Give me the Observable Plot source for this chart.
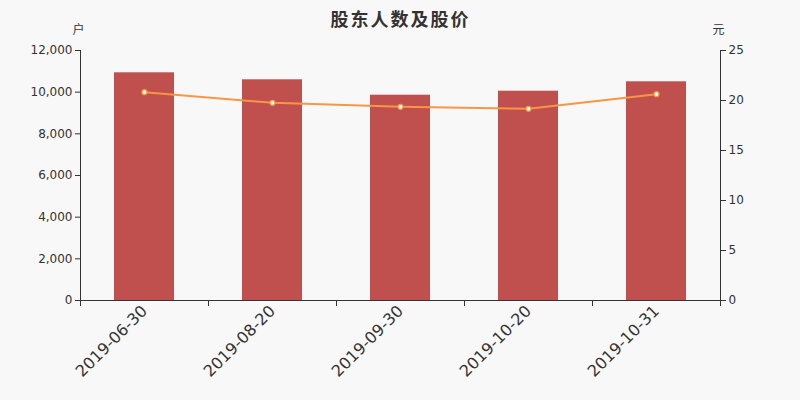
<!DOCTYPE html>
<html>
<head>
<meta charset="utf-8">
<script src="https://cdn.jsdelivr.net/npm/d3@7"></script>
<script src="https://cdn.jsdelivr.net/npm/@observablehq/plot@0.6"></script>
<style>
  html, body { margin: 0; padding: 0; background: #f8f8f8; }
  #chart svg { display: block; }
</style>
</head>
<body>
<div id="chart"></div>
<script>
const title = "股东人数及股价";
const leftUnit = "户";
const rightUnit = "元";
const dates = ["2019-06-30", "2019-08-20", "2019-09-30", "2019-10-20", "2019-10-31"];
const holders = [10930, 10594, 9854, 10046, 10498];
const prices = [20.83, 19.77, 19.37, 19.17, 20.63];
const leftTicks = [0, 2000, 4000, 6000, 8000, 10000, 12000];
const rightTicks = [0, 5, 10, 15, 20, 25];

const leftMax = 12000, rightMax = 25;
const k = leftMax / rightMax;
const data = dates.map((d, i) => ({date: d, holders: holders[i], price: prices[i]}));

const barColor = "#c0504d";
const lineColor = "#f79646";
const axisColor = "#333333";
const textColor = "#333333";

function axisLines(index, scales, values, dims) {
  const {width, height, marginLeft, marginRight, marginTop, marginBottom} = dims;
  const g = d3.create("svg:g").attr("stroke", axisColor).attr("fill", "none").attr("stroke-width", 1);
  const bottom = height - marginBottom;
  const step = (width - marginLeft - marginRight) / dates.length;
  g.append("line").attr("x1", marginLeft + 0.5).attr("x2", marginLeft + 0.5).attr("y1", marginTop).attr("y2", bottom);
  g.append("line").attr("x1", width - marginRight + 0.5).attr("x2", width - marginRight + 0.5).attr("y1", marginTop).attr("y2", bottom);
  g.append("line").attr("x1", marginLeft).attr("x2", width - marginRight).attr("y1", bottom + 0.5).attr("y2", bottom + 0.5);
  const edges = dates.map(d => scales.x(d));
  edges.push(edges[edges.length - 1] + step);
  for (const e of edges) {
    g.append("line").attr("x1", Math.round(e) + 0.5).attr("x2", Math.round(e) + 0.5).attr("y1", bottom).attr("y2", bottom + 6);
  }
  return g.node();
}

const chart = Plot.plot({
  width: 800,
  height: 400,
  marginTop: 50,
  marginBottom: 100,
  marginLeft: 80,
  marginRight: 80,
  style: {background: "#f8f8f8", fontFamily: "DejaVu Sans, sans-serif", color: textColor},
  x: {type: "band", domain: dates, padding: 0},
  y: {domain: [0, leftMax]},
  marks: [
    Plot.barY(data, {x: "date", y: "holders", fill: barColor, insetLeft: 34, insetRight: 34}),
    Plot.line(data, {x: "date", y: d => d.price * k, stroke: lineColor, strokeWidth: 2}),
    Plot.dot(data, {x: "date", y: d => d.price * k, r: 2.5, fill: "white", stroke: lineColor, strokeWidth: 1.2}),
    axisLines,
    Plot.axisY(leftTicks, {anchor: "left", tickSize: 5, tickPadding: 3, tickFormat: d3.format(","), label: null, fontSize: 12, stroke: axisColor, fill: textColor}),
    Plot.axisY(rightTicks.map(v => v * k), {anchor: "right", tickSize: 5, tickPadding: 3, tickFormat: v => String(Math.round(v / k)), label: null, fontSize: 12, stroke: axisColor, fill: textColor}),
    Plot.axisX({tickSize: 0, tickRotate: -45, tickPadding: 8, label: null, fontSize: 16, fill: textColor}),
    Plot.text([title], {frameAnchor: "top", dy: -37, fontSize: 18, fontWeight: 600, fill: textColor, fontFamily: "Noto Sans CJK SC"}),
    Plot.text([leftUnit], {frameAnchor: "top-left", dx: -2, dy: -22, fontSize: 12, fill: textColor, fontFamily: "Noto Sans CJK SC"}),
    Plot.text([rightUnit], {frameAnchor: "top-right", dx: -2, dy: -22, fontSize: 12, fill: textColor, fontFamily: "Noto Sans CJK SC"})
  ]
});

document.getElementById("chart").appendChild(chart);
chart.querySelectorAll("text").forEach(t => {
  if (t.textContent === title) t.setAttribute("letter-spacing", "2");
});
// fine-tune unit label positions to match reference
chart.querySelectorAll("text").forEach(t => {
  if (t.textContent === leftUnit) t.setAttribute("transform", (t.getAttribute("transform") || "") + " translate(-6,-3)");
  if (t.textContent === rightUnit) t.setAttribute("transform", (t.getAttribute("transform") || "") + " translate(6,-3)");
});
</script>
</body>
</html>
